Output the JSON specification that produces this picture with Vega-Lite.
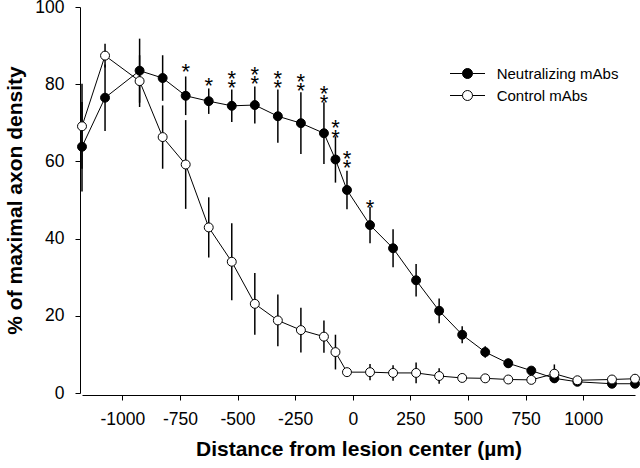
{
  "$schema": "https://vega.github.io/schema/vega-lite/v6.json",
  "width": 553,
  "height": 386,
  "autosize": {"type": "none"},
  "padding": {"left": 82, "top": 7, "right": 5, "bottom": 75},
  "background": "white",
  "config": {
    "view": {"stroke": null},
    "font": "Liberation Sans",
    "axis": {
      "domainColor": "black", "tickColor": "black", "labelColor": "black", "titleColor": "black",
      "grid": false, "labelFont": "Liberation Sans", "titleFont": "Liberation Sans",
      "labelFontSize": 17.5, "titleFontSize": 21, "titleFontWeight": "bold",
      "tickSize": 5, "domainWidth": 1, "tickWidth": 1
    }
  },
  "datasets": {
    "pts": [
      {"distance": -1175, "series": "Neutralizing mAbs", "mean": 63.8, "lo": 52.2, "hi": 75.4},
      {"distance": -1075, "series": "Neutralizing mAbs", "mean": 76.5, "lo": 67.9, "hi": 85.1},
      {"distance": -925, "series": "Neutralizing mAbs", "mean": 83.5, "lo": 75.2, "hi": 91.8},
      {"distance": -825, "series": "Neutralizing mAbs", "mean": 81.6, "lo": 75.7, "hi": 87.5},
      {"distance": -725, "series": "Neutralizing mAbs", "mean": 77.0, "lo": 72.0, "hi": 82.0},
      {"distance": -625, "series": "Neutralizing mAbs", "mean": 75.6, "lo": 72.3, "hi": 78.9},
      {"distance": -525, "series": "Neutralizing mAbs", "mean": 74.4, "lo": 70.2, "hi": 78.6},
      {"distance": -425, "series": "Neutralizing mAbs", "mean": 74.6, "lo": 69.8, "hi": 79.4},
      {"distance": -325, "series": "Neutralizing mAbs", "mean": 71.7, "lo": 64.8, "hi": 78.6},
      {"distance": -225, "series": "Neutralizing mAbs", "mean": 69.9, "lo": 61.9, "hi": 77.9},
      {"distance": -125, "series": "Neutralizing mAbs", "mean": 67.3, "lo": 59.3, "hi": 75.3},
      {"distance": -75, "series": "Neutralizing mAbs", "mean": 60.5, "lo": 54.5, "hi": 66.5},
      {"distance": -25, "series": "Neutralizing mAbs", "mean": 52.6, "lo": 47.6, "hi": 57.6},
      {"distance": 75, "series": "Neutralizing mAbs", "mean": 43.5, "lo": 38.8, "hi": 48.2},
      {"distance": 175, "series": "Neutralizing mAbs", "mean": 37.5, "lo": 32.6, "hi": 42.4},
      {"distance": 275, "series": "Neutralizing mAbs", "mean": 29.2, "lo": 25.0, "hi": 33.4},
      {"distance": 375, "series": "Neutralizing mAbs", "mean": 21.3, "lo": 18.1, "hi": 24.5},
      {"distance": 475, "series": "Neutralizing mAbs", "mean": 15.1, "lo": 12.9, "hi": 17.3},
      {"distance": 575, "series": "Neutralizing mAbs", "mean": 10.6, "lo": 9.1, "hi": 12.1},
      {"distance": 675, "series": "Neutralizing mAbs", "mean": 7.7, "lo": 6.5, "hi": 8.9},
      {"distance": 775, "series": "Neutralizing mAbs", "mean": 5.8, "lo": 4.8, "hi": 6.8},
      {"distance": 875, "series": "Neutralizing mAbs", "mean": 3.8, "lo": 2.8, "hi": 4.8},
      {"distance": 975, "series": "Neutralizing mAbs", "mean": 2.9, "lo": 2.1, "hi": 3.7},
      {"distance": 1125, "series": "Neutralizing mAbs", "mean": 2.4, "lo": 1.6, "hi": 3.2},
      {"distance": 1225, "series": "Neutralizing mAbs", "mean": 2.4, "lo": 1.6, "hi": 3.2},
      {"distance": -1175, "series": "Control mAbs", "mean": 69.1, "lo": 58.1, "hi": 80.1},
      {"distance": -1075, "series": "Control mAbs", "mean": 87.4, "lo": 84.3, "hi": 90.5},
      {"distance": -925, "series": "Control mAbs", "mean": 80.8, "lo": 74.1, "hi": 87.5},
      {"distance": -825, "series": "Control mAbs", "mean": 66.3, "lo": 58.1, "hi": 74.5},
      {"distance": -725, "series": "Control mAbs", "mean": 59.2, "lo": 47.7, "hi": 70.7},
      {"distance": -625, "series": "Control mAbs", "mean": 42.9, "lo": 35.1, "hi": 50.7},
      {"distance": -525, "series": "Control mAbs", "mean": 34.0, "lo": 24.0, "hi": 44.0},
      {"distance": -425, "series": "Control mAbs", "mean": 23.1, "lo": 15.1, "hi": 31.1},
      {"distance": -325, "series": "Control mAbs", "mean": 18.8, "lo": 12.1, "hi": 25.5},
      {"distance": -225, "series": "Control mAbs", "mean": 16.3, "lo": 10.5, "hi": 22.1},
      {"distance": -125, "series": "Control mAbs", "mean": 14.6, "lo": 10.4, "hi": 18.8},
      {"distance": -75, "series": "Control mAbs", "mean": 10.6, "lo": 6.1, "hi": 15.1},
      {"distance": -25, "series": "Control mAbs", "mean": 5.4, "lo": 4.4, "hi": 6.4},
      {"distance": 75, "series": "Control mAbs", "mean": 5.4, "lo": 3.3, "hi": 7.5},
      {"distance": 175, "series": "Control mAbs", "mean": 5.2, "lo": 3.2, "hi": 7.2},
      {"distance": 275, "series": "Control mAbs", "mean": 5.2, "lo": 2.5, "hi": 7.9},
      {"distance": 375, "series": "Control mAbs", "mean": 4.4, "lo": 2.4, "hi": 6.4},
      {"distance": 475, "series": "Control mAbs", "mean": 3.9, "lo": 2.9, "hi": 4.9},
      {"distance": 575, "series": "Control mAbs", "mean": 3.8, "lo": 3.0, "hi": 4.6},
      {"distance": 675, "series": "Control mAbs", "mean": 3.5, "lo": 2.7, "hi": 4.3},
      {"distance": 775, "series": "Control mAbs", "mean": 3.4, "lo": 2.6, "hi": 4.2},
      {"distance": 875, "series": "Control mAbs", "mean": 5.0, "lo": 2.6, "hi": 7.4},
      {"distance": 975, "series": "Control mAbs", "mean": 3.3, "lo": 2.5, "hi": 4.1},
      {"distance": 1125, "series": "Control mAbs", "mean": 3.5, "lo": 2.7, "hi": 4.3},
      {"distance": 1225, "series": "Control mAbs", "mean": 3.7, "lo": 2.9, "hi": 4.5}
    ],
    "stars": [
      {"distance": -725, "label": "*", "star": 84.5},
      {"distance": -625, "label": "*", "star": 81.0},
      {"distance": -525, "label": "*\n*", "star": 82.9},
      {"distance": -425, "label": "*\n*", "star": 83.8},
      {"distance": -325, "label": "*\n*", "star": 82.9},
      {"distance": -225, "label": "*\n*", "star": 82.0},
      {"distance": -125, "label": "*\n*", "star": 78.9},
      {"distance": -75, "label": "*\n*", "star": 70.0},
      {"distance": -25, "label": "*\n*", "star": 62.2},
      {"distance": 75, "label": "*", "star": 49.5}
    ]
  },
  "layer": [
    {
      "data": {"name": "pts"},
      "mark": {"type": "rule", "color": "black", "strokeWidth": 1.5},
      "encoding": {
        "x": {
          "field": "distance", "type": "quantitative",
          "scale": {"domain": [-1175, 1225], "nice": false, "zero": false},
          "axis": {
            "values": [-1000, -750, -500, -250, 0, 250, 500, 750, 1000],
            "labelExpr": "'' + datum.value",
            "title": "Distance from lesion center (µm)",
            "offset": 2, "labelPadding": 10, "titlePadding": 11, "labelFlush": false, "labelOverlap": false
          }
        },
        "y": {
          "field": "lo", "type": "quantitative",
          "scale": {"domain": [0, 100], "nice": false},
          "axis": {
            "values": [0, 20, 40, 60, 80, 100],
            "title": "% of maximal axon density",
            "offset": 2, "labelPadding": 11, "titlePadding": 9, "labelFlush": false, "labelOverlap": false
          }
        },
        "y2": {"field": "hi"},
        "detail": {"field": "series", "type": "nominal"}
      }
    },
    {
      "data": {"name": "pts"},
      "mark": {"type": "line", "color": "black", "strokeWidth": 1},
      "encoding": {
        "x": {"field": "distance", "type": "quantitative", "title": "Distance from lesion center (µm)"},
        "y": {"field": "mean", "type": "quantitative", "title": "% of maximal axon density"},
        "detail": {"field": "series", "type": "nominal"}
      }
    },
    {
      "data": {"name": "pts"},
      "mark": {"type": "point", "shape": "circle", "filled": true, "stroke": "black", "strokeWidth": 1, "size": 80, "opacity": 1},
      "encoding": {
        "x": {"field": "distance", "type": "quantitative", "title": "Distance from lesion center (µm)"},
        "y": {"field": "mean", "type": "quantitative", "title": "% of maximal axon density"},
        "fill": {
          "field": "series", "type": "nominal",
          "scale": {"domain": ["Neutralizing mAbs", "Control mAbs"], "range": ["black", "white"]},
          "legend": {
            "title": null, "orient": "none", "legendX": 390.5, "legendY": 59,
            "symbolType": "M-6,0H-3.5M-1.5,0H1M-3.5,0A1,1,0,1,1,-1.5,0A1,1,0,1,1,-3.5,0Z",
            "symbolSize": 100, "symbolStrokeColor": "black", "symbolStrokeWidth": 1, "symbolOpacity": 1,
            "labelFontSize": 15, "labelFont": "Liberation Sans", "labelColor": "black",
            "labelOffset": 9.2, "rowPadding": 6, "padding": 0
          }
        }
      }
    },
    {
      "data": {"name": "stars"},
      "mark": {"type": "text", "fontSize": 22, "font": "Liberation Sans", "baseline": "alphabetic", "align": "center", "dy": 12.6, "lineBreak": "\n", "lineHeight": 9.3, "fill": "black", "color": "black"},
      "encoding": {
        "x": {"field": "distance", "type": "quantitative", "title": "Distance from lesion center (µm)"},
        "y": {"field": "star", "type": "quantitative", "title": "% of maximal axon density"},
        "text": {"field": "label", "type": "nominal"}
      }
    }
  ]
}
